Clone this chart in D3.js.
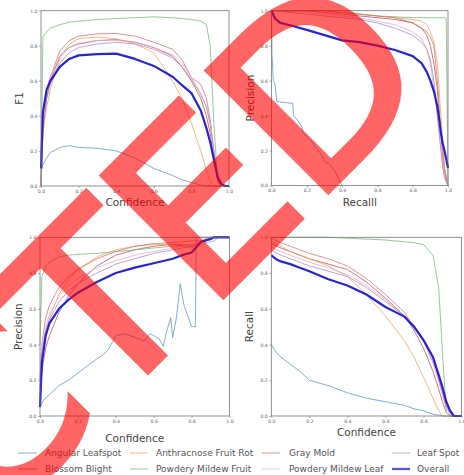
<!DOCTYPE html>
<html>
<head>
<meta charset="utf-8">
<script src="https://cdn.jsdelivr.net/npm/d3@7"></script>
<style>
  body { margin: 0; background: #fff; }
  svg { display: block; font-family: "DejaVu Sans", sans-serif; }
</style>
</head>
<body>
<svg width="464" height="475"></svg>
<script>
let classNames = [
  "Angular Leafspot", "Blossom Blight", "Anthracnose Fruit Rot", "Powdery Mildew Fruit",
  "Gray Mold", "Powdery Mildew Leaf", "Leaf Spot"
];
let classColors = ["#5b93c4", "#b9504a", "#f3a25c", "#74b874", "#d9706f", "#eaa5d6", "#a48dc6"];
let overallColor = "#1a1ad0";

let confGrid = [0, 0.01, 0.03, 0.05, 0.1, 0.15, 0.2, 0.3, 0.4, 0.5, 0.6, 0.7, 0.75, 0.8, 0.85, 0.88, 0.9, 0.92, 0.94, 0.96, 0.98, 1.0];
let recallGrid = [0, 0.02, 0.05, 0.1, 0.2, 0.3, 0.4, 0.5, 0.6, 0.7, 0.8, 0.85, 0.88, 0.9, 0.92, 0.94, 0.95, 0.96, 0.97, 0.98, 0.99, 1.0];

// F1 vs confidence, per class (classNames order), on confGrid
let f1Curves = [
  [0.08, 0.12, 0.16, 0.19, 0.22, 0.23, 0.22, 0.215, 0.2, 0.16, 0.1, 0.06, 0.035, 0.02, 0.005, 0, 0, 0, 0, 0, 0, 0],
  [0, 0.3, 0.5, 0.6, 0.74, 0.79, 0.81, 0.83, 0.835, 0.82, 0.79, 0.74, 0.68, 0.6, 0.5, 0.4, 0.3, 0.15, 0.03, 0, 0, 0],
  [0, 0.3, 0.45, 0.55, 0.73, 0.81, 0.84, 0.85, 0.84, 0.81, 0.76, 0.6, 0.5, 0.36, 0.2, 0.09, 0.03, 0, 0, 0, 0, 0],
  [0, 0.85, 0.88, 0.9, 0.92, 0.935, 0.94, 0.95, 0.955, 0.96, 0.965, 0.96, 0.955, 0.95, 0.94, 0.92, 0.8, 0.35, 0.02, 0, 0, 0],
  [0, 0.4, 0.55, 0.62, 0.77, 0.83, 0.855, 0.868, 0.87, 0.855, 0.82, 0.78, 0.72, 0.62, 0.58, 0.5, 0.38, 0.18, 0.04, 0, 0, 0],
  [0, 0.4, 0.55, 0.63, 0.74, 0.79, 0.815, 0.83, 0.83, 0.82, 0.79, 0.75, 0.7, 0.62, 0.53, 0.45, 0.36, 0.2, 0.05, 0, 0, 0],
  [0, 0.35, 0.5, 0.58, 0.7, 0.76, 0.79, 0.81, 0.82, 0.81, 0.78, 0.73, 0.68, 0.61, 0.52, 0.45, 0.35, 0.2, 0.06, 0.01, 0, 0]
];
let f1Overall = [0.1, 0.42, 0.55, 0.6, 0.68, 0.725, 0.745, 0.752, 0.755, 0.725, 0.685, 0.623, 0.575, 0.53, 0.43, 0.33, 0.25, 0.15, 0.05, 0.01, 0, 0];

// Precision vs recall on recallGrid (Angular Leafspot has its own points)
let prCurves = [
  null,
  [1, 1, 1, 1, 1, 0.99, 0.98, 0.97, 0.96, 0.95, 0.93, 0.9, 0.86, 0.8, 0.7, 0.55, 0.4, 0.3, 0.2, 0.1, 0.05, 0],
  [1, 1, 1, 1, 1, 1, 1, 0.98, 0.97, 0.96, 0.95, 0.94, 0.92, 0.88, 0.82, 0.7, 0.55, 0.4, 0.25, 0.1, 0.05, 0],
  [1, 1, 1, 1, 1, 1, 0.99, 0.98, 0.97, 0.965, 0.96, 0.96, 0.96, 0.96, 0.96, 0.96, 0.96, 0.96, 0.96, 0.96, 0.955, 0],
  [1, 1, 1, 1, 1, 1, 0.99, 0.98, 0.97, 0.96, 0.93, 0.9, 0.88, 0.85, 0.8, 0.6, 0.45, 0.3, 0.15, 0.08, 0.03, 0],
  [1, 1, 1, 1, 0.99, 0.98, 0.97, 0.96, 0.94, 0.92, 0.88, 0.84, 0.78, 0.7, 0.55, 0.4, 0.3, 0.2, 0.12, 0.05, 0.02, 0],
  [1, 1, 1, 0.99, 0.98, 0.97, 0.96, 0.95, 0.93, 0.9, 0.86, 0.82, 0.78, 0.72, 0.6, 0.4, 0.3, 0.2, 0.1, 0.05, 0.02, 0]
];
let prOverall = [1, 0.955, 0.93, 0.918, 0.89, 0.86, 0.83, 0.82, 0.8, 0.775, 0.74, 0.7, 0.65, 0.6, 0.54, 0.45, 0.38, 0.3, 0.24, 0.2, 0.15, 0.1];
let angularPrRecall = [0, 0.003, 0.01, 0.02, 0.03, 0.12, 0.125, 0.15, 0.17, 0.18, 0.22, 0.25, 0.28, 0.3, 0.33, 0.36, 0.38, 0.4];
let angularPrPrecision = [1, 0.75, 0.6, 0.58, 0.48, 0.47, 0.4, 0.37, 0.34, 0.3, 0.26, 0.22, 0.18, 0.14, 0.12, 0.08, 0.04, 0];

// Precision vs confidence on confGrid
let pCurves = [
  null,
  [0.1, 0.25, 0.38, 0.45, 0.58, 0.67, 0.74, 0.84, 0.9, 0.93, 0.95, 0.96, 0.96, 0.95, 0.97, 0.98, 1, 1, 1, 1, 1, 1],
  [0.15, 0.3, 0.45, 0.55, 0.68, 0.76, 0.82, 0.89, 0.93, 0.95, 0.96, 0.96, 0.95, 0.94, 0.96, 1, 1, 1, 1, 1, 1, 1],
  [0.4, 0.78, 0.84, 0.86, 0.89, 0.9, 0.905, 0.91, 0.92, 0.93, 0.94, 0.95, 0.955, 0.96, 0.97, 0.97, 0.975, 0.98, 1, 1, 1, 1],
  [0.2, 0.4, 0.55, 0.62, 0.72, 0.78, 0.82, 0.88, 0.92, 0.95, 0.965, 0.97, 0.975, 0.98, 0.98, 0.99, 1, 1, 1, 1, 1, 1],
  [0.2, 0.4, 0.5, 0.57, 0.67, 0.73, 0.77, 0.83, 0.87, 0.9, 0.92, 0.94, 0.95, 0.96, 0.97, 0.98, 1, 1, 1, 1, 1, 1],
  [0.15, 0.35, 0.48, 0.54, 0.64, 0.7, 0.74, 0.8, 0.85, 0.88, 0.91, 0.93, 0.94, 0.95, 0.97, 0.98, 0.99, 1, 1, 1, 1, 1]
];
let pOverall = [0.05, 0.3, 0.45, 0.52, 0.6, 0.65, 0.69, 0.75, 0.8, 0.83, 0.855, 0.88, 0.9, 0.915, 0.975, 0.985, 0.99, 1, 1, 1, 1, 1];
let angularPConf = [0, 0.02, 0.05, 0.1, 0.15, 0.2, 0.25, 0.3, 0.33, 0.36, 0.4, 0.45, 0.5, 0.55, 0.58, 0.6, 0.63, 0.65, 0.67, 0.69, 0.7, 0.72, 0.74, 0.76, 0.8, 0.82, 0.825, 1.0];
let angularPPrecision = [0.05, 0.09, 0.12, 0.17, 0.2, 0.24, 0.28, 0.32, 0.34, 0.37, 0.45, 0.46, 0.44, 0.42, 0.46, 0.45, 0.43, 0.39, 0.48, 0.55, 0.44, 0.55, 0.74, 0.62, 0.5, 0.5, 1.0, 1.0];

// Recall vs confidence on confGrid
let rCurves = [
  [0.4, 0.38, 0.35, 0.33, 0.29, 0.25, 0.2, 0.17, 0.13, 0.1, 0.08, 0.06, 0.04, 0.03, 0.01, 0.005, 0, 0, 0, 0, 0, 0],
  [0.97, 0.96, 0.95, 0.94, 0.92, 0.9, 0.88, 0.85, 0.82, 0.75, 0.66, 0.56, 0.48, 0.38, 0.25, 0.15, 0.08, 0.02, 0, 0, 0, 0],
  [0.98, 0.97, 0.96, 0.95, 0.92, 0.9, 0.88, 0.84, 0.78, 0.68, 0.56, 0.42, 0.33, 0.22, 0.1, 0.03, 0, 0, 0, 0, 0, 0],
  [1, 1, 1, 1, 1, 1, 1, 1, 0.995, 0.99, 0.985, 0.975, 0.97, 0.96, 0.9, 0.72, 0.35, 0.02, 0, 0, 0, 0],
  [1, 0.99, 0.98, 0.97, 0.95, 0.93, 0.91, 0.88, 0.84, 0.77, 0.68, 0.58, 0.5, 0.42, 0.3, 0.2, 0.12, 0.05, 0.01, 0, 0, 0],
  [0.95, 0.94, 0.93, 0.92, 0.9, 0.88, 0.86, 0.83, 0.79, 0.73, 0.65, 0.56, 0.5, 0.42, 0.3, 0.2, 0.12, 0.05, 0.01, 0, 0, 0],
  [0.93, 0.92, 0.91, 0.9, 0.88, 0.86, 0.84, 0.81, 0.78, 0.72, 0.64, 0.56, 0.51, 0.43, 0.32, 0.22, 0.14, 0.06, 0.02, 0, 0, 0]
];
let rOverall = [0.9, 0.89, 0.875, 0.865, 0.85, 0.83, 0.81, 0.765, 0.73, 0.68, 0.61, 0.556, 0.5, 0.425, 0.33, 0.23, 0.16, 0.08, 0.03, 0, 0, 0];

let tickValues = [0, 0.2, 0.4, 0.6, 0.8, 1.0];

let svg = d3.select("svg");

let panels = [
  { x0: 41, x1: 229, y0: 186, y1: 10.7, xLabel: "Confidence", yLabel: "F1", xLabelY: 206, yLabelX: 19 },
  { x0: 271.5, x1: 448, y0: 185.5, y1: 10.7, xLabel: "Recalll", yLabel: "Precision", xLabelY: 206, yLabelX: 250 },
  { x0: 40, x1: 229.5, y0: 416, y1: 237.3, xLabel: "Confidence", yLabel: "Precision", xLabelY: 442, yLabelX: 18 },
  { x0: 271.3, x1: 461.5, y0: 416, y1: 237.3, xLabel: "Confidence", yLabel: "Recall", xLabelY: 436, yLabelX: 249 }
];

let series = [
  classNames.map((n, i) => confGrid.map((c, j) => [c, f1Curves[i][j]])).concat([confGrid.map((c, j) => [c, f1Overall[j]])]),
  classNames.map((n, i) => i === 0
    ? angularPrRecall.map((r, j) => [r, angularPrPrecision[j]])
    : recallGrid.map((r, j) => [r, prCurves[i][j]])).concat([recallGrid.map((r, j) => [r, prOverall[j]])]),
  classNames.map((n, i) => i === 0
    ? angularPConf.map((c, j) => [c, angularPPrecision[j]])
    : confGrid.map((c, j) => [c, pCurves[i][j]])).concat([confGrid.map((c, j) => [c, pOverall[j]])]),
  classNames.map((n, i) => confGrid.map((c, j) => [c, rCurves[i][j]])).concat([confGrid.map((c, j) => [c, rOverall[j]])])
];

panels.forEach((p, k) => {
  let x = d3.scaleLinear().domain([0, 1]).range([p.x0, p.x1]);
  let y = d3.scaleLinear().domain([0, 1]).range([p.y0, p.y1]);
  let g = svg.append("g");

  let line = d3.line().x(d => x(d[0])).y(d => y(d[1]));

  series[k].forEach((pts, i) => {
    let overall = i === classNames.length;
    g.append("path")
      .attr("d", line(pts))
      .attr("fill", "none")
      .attr("stroke", overall ? overallColor : classColors[i])
      .attr("stroke-width", overall ? 2.2 : 0.9)
      .attr("stroke-opacity", overall ? 0.95 : 0.85)
      .attr("stroke-linejoin", "round");
  });

  g.append("rect")
    .attr("x", p.x0).attr("y", p.y1)
    .attr("width", p.x1 - p.x0).attr("height", p.y0 - p.y1)
    .attr("fill", "none").attr("stroke", "#777").attr("stroke-width", 0.8);

  let xa = g.append("g").attr("transform", `translate(0,${p.y0})`)
    .call(d3.axisBottom(x).tickValues(tickValues).tickFormat(d3.format(".1f")).tickSize(2).tickPadding(1.5));
  let ya = g.append("g").attr("transform", `translate(${p.x0},0)`)
    .call(d3.axisLeft(y).tickValues(tickValues).tickFormat(d3.format(".1f")).tickSize(2).tickPadding(1.5));
  [xa, ya].forEach(a => {
    a.select(".domain").remove();
    a.selectAll("line").attr("stroke", "#777").attr("stroke-width", 0.6);
    a.selectAll("text").attr("font-size", 4.6).attr("fill", "#666").attr("font-family", "DejaVu Sans");
  });

  g.append("text")
    .attr("x", (p.x0 + p.x1) / 2).attr("y", p.xLabelY)
    .attr("text-anchor", "middle")
    .attr("font-size", 10.5).attr("fill", "#444")
    .text(p.xLabel);
  g.append("text")
    .attr("transform", `translate(${p.yLabelX},${(p.y0 + p.y1) / 2}) rotate(-90)`)
    .attr("text-anchor", "middle")
    .attr("dy", "0.35em")
    .attr("font-size", 10.5).attr("fill", "#444")
    .text(p.yLabel);
});

// legend, filled column by column (4 columns x 2 rows)
let legendItems = classNames.map((n, i) => ({ name: n, color: classColors[i], w: 1 }))
  .concat([{ name: "Overall", color: overallColor, w: 2.2 }]);
let colX = [[18, 37, 45], [130, 148, 156], [262, 280, 289], [392, 410, 417]];
let rowY = [453, 469];

legendItems.forEach((d, i) => {
  let c = colX[Math.floor(i / 2)];
  let yy = rowY[i % 2];
  svg.append("line")
    .attr("x1", c[0]).attr("x2", c[1]).attr("y1", yy).attr("y2", yy)
    .attr("stroke", d.color).attr("stroke-width", d.w).attr("stroke-opacity", 0.75);
  svg.append("text")
    .attr("x", c[2]).attr("y", yy).attr("dy", "0.35em")
    .attr("font-size", 9).attr("fill", "#555")
    .text(d.name);
});

// watermark
svg.append("g")
  .attr("opacity", 0.6)
  .append("text")
  .attr("transform", "translate(-385,905) rotate(-45)")
  .attr("font-size", 235)
  .attr("font-family", "DejaVu Sans")
  .attr("fill", "#ff0000")
  .attr("stroke", "#ff0000")
  .attr("stroke-width", 5)
  .attr("stroke-linejoin", "miter")
  .text("REJECTED");
</script>
</body>
</html>
